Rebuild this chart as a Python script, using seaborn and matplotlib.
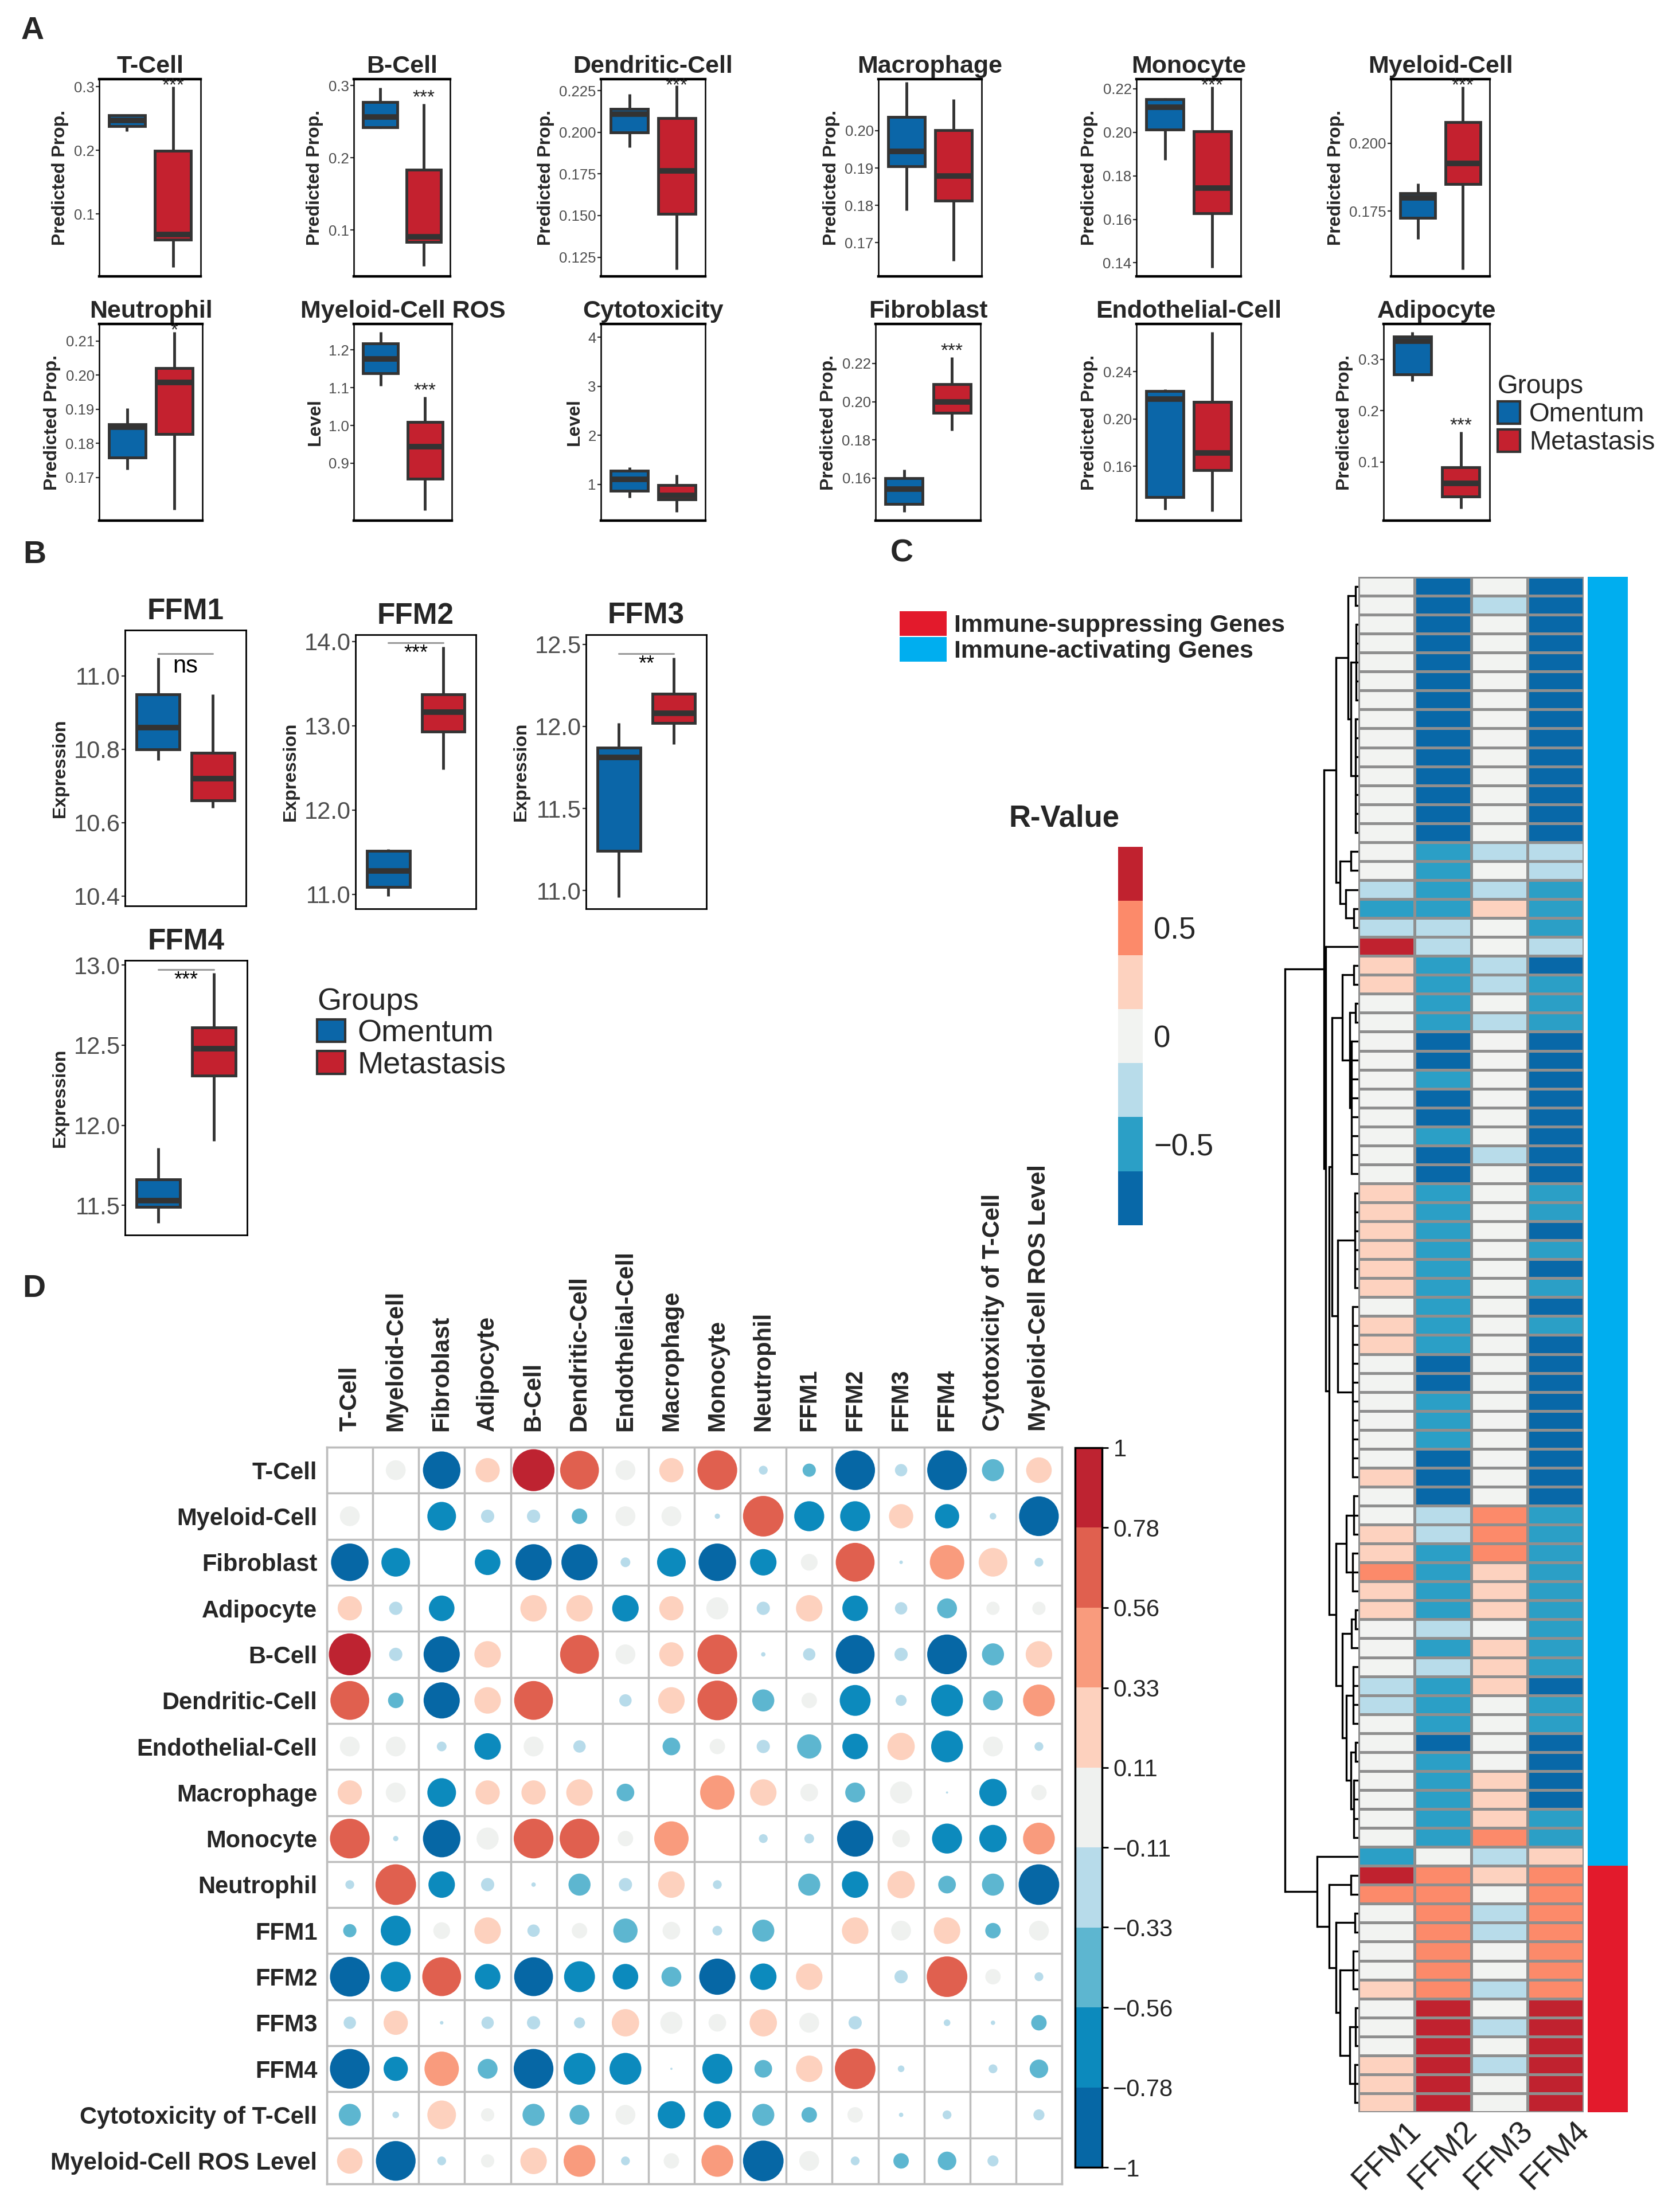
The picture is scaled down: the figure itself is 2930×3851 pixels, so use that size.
import numpy as np
import pandas as pd
import matplotlib
matplotlib.use("Agg")
import matplotlib as mpl
import matplotlib.pyplot as plt
import matplotlib.transforms as mtransforms
from matplotlib.colors import ListedColormap, Normalize
from matplotlib.patches import Patch
import seaborn as sns

sns.set_theme(style="white")
plt.rcParams["font.family"] = ["Liberation Sans", "DejaVu Sans"]

# ------------------------------------------------------------------ data
groups = ["Omentum", "Metastasis"]
group_colors = {"Omentum": "#0B66A8", "Metastasis": "#C4212F"}

# Panel A : five-number summaries [min, q1, median, q3, max]
a_titles = ["T-Cell", "B-Cell", "Dendritic-Cell", "Macrophage", "Monocyte", "Myeloid-Cell",
            "Neutrophil", "Myeloid-Cell ROS", "Cytotoxicity", "Fibroblast", "Endothelial-Cell", "Adipocyte"]
a_ylabels = ["Predicted Prop."] * 7 + ["Level", "Level"] + ["Predicted Prop."] * 3
a_omentum = [
    [0.230, 0.238, 0.247, 0.255, 0.256],
    [0.241, 0.242, 0.257, 0.277, 0.297],
    [0.191, 0.200, 0.211, 0.214, 0.223],
    [0.1787, 0.1905, 0.1944, 0.2036, 0.2131],
    [0.1872, 0.2012, 0.2116, 0.2152, 0.2156],
    [0.1648, 0.1725, 0.1799, 0.1815, 0.1852],
    [0.1723, 0.1758, 0.1847, 0.1856, 0.1903],
    [1.105, 1.138, 1.177, 1.217, 1.247],
    [0.73, 0.87, 1.10, 1.28, 1.35],
    [0.1422, 0.1464, 0.1542, 0.1600, 0.1644],
    [0.1232, 0.1337, 0.2167, 0.2234, 0.2251],
    [0.257, 0.271, 0.335, 0.344, 0.353],
]
a_metastasis = [
    [0.016, 0.060, 0.068, 0.199, 0.300],
    [0.050, 0.084, 0.091, 0.184, 0.275],
    [0.1175, 0.151, 0.177, 0.2085, 0.228],
    [0.1651, 0.1812, 0.1878, 0.2001, 0.2084],
    [0.1378, 0.1629, 0.1743, 0.2004, 0.2209],
    [0.1535, 0.1849, 0.1926, 0.2077, 0.2208],
    [0.1606, 0.1828, 0.1979, 0.2021, 0.2126],
    [0.776, 0.859, 0.944, 1.010, 1.076],
    [0.44, 0.69, 0.77, 0.98, 1.19],
    [0.1847, 0.1943, 0.2000, 0.2092, 0.2234],
    [0.122, 0.1568, 0.1713, 0.2145, 0.2735],
    [0.0089, 0.0331, 0.059, 0.0896, 0.159],
]
a_ylims = [(0.002, 0.312), (0.036, 0.309), (0.1135, 0.2319), (0.161, 0.2138), (0.1338, 0.2244),
           (0.151, 0.2236), (0.1574, 0.215), (0.748, 1.269), (0.26, 4.27), (0.1377, 0.2407),
           (0.114, 0.2804), (-0.0141, 0.3688)]
a_ticks = [[0.1, 0.2, 0.3], [0.1, 0.2, 0.3], [0.125, 0.150, 0.175, 0.200, 0.225],
           [0.17, 0.18, 0.19, 0.20], [0.14, 0.16, 0.18, 0.20, 0.22], [0.175, 0.200],
           [0.17, 0.18, 0.19, 0.20, 0.21], [0.9, 1.0, 1.1, 1.2], [1, 2, 3, 4],
           [0.16, 0.18, 0.20, 0.22], [0.16, 0.20, 0.24], [0.1, 0.2, 0.3]]
a_ticklabels = [["0.1", "0.2", "0.3"], ["0.1", "0.2", "0.3"],
                ["0.125", "0.150", "0.175", "0.200", "0.225"],
                ["0.17", "0.18", "0.19", "0.20"], ["0.14", "0.16", "0.18", "0.20", "0.22"],
                ["0.175", "0.200"], ["0.17", "0.18", "0.19", "0.20", "0.21"],
                ["0.9", "1.0", "1.1", "1.2"], ["1", "2", "3", "4"],
                ["0.16", "0.18", "0.20", "0.22"], ["0.16", "0.20", "0.24"], ["0.1", "0.2", "0.3"]]
a_stars = ["***", "***", "***", "", "***", "***", "*", "***", "", "***", "", "***"]

# Panel B
b_titles = ["FFM1", "FFM2", "FFM3", "FFM4"]
b_omentum = [[10.77, 10.80, 10.86, 10.95, 11.05],
             [10.98, 11.09, 11.28, 11.52, 11.54],
             [10.96, 11.24, 11.81, 11.87, 12.02],
             [11.39, 11.49, 11.53, 11.66, 11.86]]
b_metastasis = [[10.64, 10.66, 10.72, 10.79, 10.95],
                [12.48, 12.93, 13.16, 13.37, 13.94],
                [11.89, 12.02, 12.08, 12.20, 12.42],
                [11.90, 12.31, 12.48, 12.61, 12.95]]
b_ylims = [(10.373, 11.125), (10.83, 14.08), (10.889, 12.558), (11.314, 13.03)]
b_ticks = [[10.4, 10.6, 10.8, 11.0], [11.0, 12.0, 13.0, 14.0], [11.0, 11.5, 12.0, 12.5], [11.5, 12.0, 12.5, 13.0]]
b_ticklabels = [["10.4", "10.6", "10.8", "11.0"], ["11.0", "12.0", "13.0", "14.0"],
                ["11.0", "11.5", "12.0", "12.5"], ["11.5", "12.0", "12.5", "13.0"]]
b_signif = ["ns", "***", "**", "***"]

# Panel C : R-values of 81 genes vs FFM1..FFM4
heat_cols = ["FFM1", "FFM2", "FFM3", "FFM4"]
heat_values = [
    [0, -.75, 0, -.75], [0, -.75, -.25, -.75], [0, -.75, 0, -.75], [0, -.75, 0, -.75],
    [0, -.75, 0, -.75], [0, -.75, 0, -.75], [0, -.75, 0, -.75], [0, -.75, 0, -.75],
    [0, -.75, 0, -.75], [0, -.75, 0, -.75], [0, -.75, 0, -.75], [0, -.75, 0, -.75],
    [0, -.75, 0, -.75], [0, -.75, 0, -.75], [0, -.5, -.25, -.25], [0, -.5, 0, -.25],
    [-.25, -.5, -.25, -.5], [-.5, -.5, .25, -.5], [-.25, -.25, 0, -.5], [.75, -.25, 0, -.25],
    [.25, -.5, -.25, -.75], [.25, -.5, -.25, -.5], [0, -.5, 0, -.5], [0, -.5, -.25, -.5],
    [0, -.75, 0, -.75], [0, -.75, 0, -.75], [0, -.5, 0, -.75], [0, -.75, 0, -.75],
    [0, -.75, 0, -.75], [0, -.5, 0, -.75], [0, -.75, -.25, -.75], [0, -.75, 0, -.75],
    [.25, -.5, 0, -.5], [.25, -.5, 0, -.5], [.25, -.5, 0, -.75], [.25, -.5, 0, -.5],
    [.25, -.5, 0, -.75], [.25, -.5, 0, -.5], [0, -.5, 0, -.75], [.25, -.5, 0, -.5],
    [.25, -.5, 0, -.75], [0, -.75, 0, -.75], [0, -.75, 0, -.75], [0, -.5, 0, -.75],
    [0, -.5, 0, -.75], [0, -.5, 0, -.75], [0, -.75, 0, -.75], [.25, -.75, 0, -.75],
    [0, -.75, 0, -.75], [0, -.25, .5, -.5], [.25, -.25, .5, -.5], [.25, -.5, .5, -.5],
    [.5, -.5, .25, -.5], [.25, -.5, .25, -.5], [.25, -.5, .25, -.5], [0, -.25, 0, -.5],
    [0, -.5, .25, -.5], [0, -.25, .25, -.5], [-.25, -.5, .25, -.75], [-.25, -.5, 0, -.5],
    [0, -.5, 0, -.5], [0, -.75, 0, -.75], [0, -.5, 0, -.75], [0, -.5, .25, -.75],
    [0, -.5, .25, -.75], [0, -.5, .25, -.5], [0, -.5, .5, -.5], [-.5, 0, -.25, .25],
    [.75, .5, .25, .5], [.5, .5, 0, .5], [0, .5, -.25, .5], [0, .5, -.25, .5],
    [0, .5, 0, .5], [0, .5, 0, .5], [.25, .5, -.25, .5], [0, .75, 0, .75],
    [0, .75, -.25, .75], [0, .75, 0, .75], [.25, .75, -.25, .75], [.25, .75, 0, .75],
    [.25, .75, 0, .75],
]
gene_group_names = ["Immune-suppressing Genes", "Immune-activating Genes"]
gene_group_counts = {"Immune-activating Genes": 68, "Immune-suppressing Genes": 13}
# hierarchical clustering of the 81 genes: [height, child, child, ...]; ints = leaves
gene_tree = [1.0,
    [0.47,
        [0.30,
            [0.14, [0.04, 0, 1], [0.10, [0.03, 2, 3, 4, 5, 6], [0.04, 7, 8, 9, 10, 11, 12, 13]]],
            [0.25, [0.10, 14, 15], [0.17, 16, [0.06, 17, 18]]]],
        [0.44, 19,
            [0.40,
                [0.36,
                    [0.22, [0.06, 20, 21], [0.12, [0.04, 22, 23], [0.09, 24, 25, 26, 27, 28, 29, 30, 31]]],
                    [0.28, [0.05, 32, 33, 34, 35, 36, 37], [0.08, 38, 39, 40, 41, 42, 43, 44, 45, 46, 47]]],
                [0.30,
                    [0.16, [0.06, 48, 49, 50], [0.08, 51, 52, 53]],
                    [0.22, [0.09, [0.04, 54, 55], 56],
                           [0.16, [0.07, 57, 58, 59, 60], [0.10, [0.04, 61, 62], [0.06, 63, 64, 65, 66]]]]]]]],
    [0.56, 67,
        [0.40, [0.10, 68, 69],
               [0.30, [0.05, 70, 71],
                      [0.25, [0.07, 72, 73, 74], [0.12, [0.04, 75, 76, 77], [0.05, 78, 79, 80]]]]]]]
heat_colors = ["#0868A8", "#2B9FC6", "#B8DCEA", "#F2F3F1", "#FDD2BF", "#FC8A6A", "#C0222F"]
heat_range = (-0.875, 0.875)
heat_cbar_ticks = [0.5, 0, -0.5]
heat_cbar_labels = ["0.5", "0", "\u22120.5"]

# Panel D : correlation matrix (upper triangle) and circle sizes
corr_labels = ["T-Cell", "Myeloid-Cell", "Fibroblast", "Adipocyte", "B-Cell", "Dendritic-Cell",
               "Endothelial-Cell", "Macrophage", "Monocyte", "Neutrophil", "FFM1", "FFM2", "FFM3",
               "FFM4", "Cytotoxicity of T-Cell", "Myeloid-Cell ROS Level"]
corr_upper = [
    [0.0, -0.89, 0.22, 0.89, 0.67, 0.0, 0.22, 0.67, -0.22, -0.45, -0.89, -0.22, -0.89, -0.45, 0.22],
    [-0.67, -0.22, -0.22, -0.45, 0.0, 0.0, -0.22, 0.67, -0.67, -0.67, 0.22, -0.67, -0.22, -0.89],
    [-0.67, -0.89, -0.89, -0.22, -0.67, -0.89, -0.67, 0.0, 0.67, -0.22, 0.45, 0.22, -0.22],
    [0.22, 0.22, -0.67, 0.22, 0.0, -0.22, 0.22, -0.67, -0.22, -0.45, 0.0, 0.0],
    [0.67, 0.0, 0.22, 0.67, -0.22, -0.22, -0.89, -0.22, -0.89, -0.45, 0.22],
    [-0.22, 0.22, 0.67, -0.45, 0.0, -0.67, -0.22, -0.67, -0.45, 0.45],
    [-0.45, 0.0, -0.22, -0.45, -0.67, 0.22, -0.67, 0.0, -0.22],
    [0.45, 0.22, 0.0, -0.45, 0.0, -0.22, -0.67, 0.0],
    [-0.22, -0.22, -0.89, 0.0, -0.67, -0.67, 0.45],
    [-0.45, -0.67, 0.22, -0.45, -0.45, -0.89],
    [0.22, 0.0, 0.22, -0.45, 0.0],
    [-0.22, 0.67, 0.0, -0.22],
    [-0.22, -0.22, -0.45],
    [-0.22, -0.45],
    [-0.22],
]
size_upper = [
    [0.45, 0.85, 0.55, 0.95, 0.88, 0.45, 0.55, 0.90, 0.20, 0.30, 0.90, 0.28, 0.90, 0.50, 0.58],
    [0.65, 0.30, 0.30, 0.35, 0.45, 0.45, 0.12, 0.92, 0.68, 0.68, 0.55, 0.55, 0.15, 0.90],
    [0.58, 0.82, 0.82, 0.22, 0.65, 0.85, 0.60, 0.38, 0.88, 0.08, 0.78, 0.65, 0.20],
    [0.60, 0.60, 0.60, 0.55, 0.50, 0.30, 0.60, 0.58, 0.28, 0.45, 0.30, 0.30],
    [0.88, 0.45, 0.55, 0.90, 0.10, 0.28, 0.88, 0.30, 0.90, 0.50, 0.60],
    [0.28, 0.60, 0.90, 0.50, 0.35, 0.70, 0.25, 0.72, 0.45, 0.72],
    [0.40, 0.35, 0.30, 0.55, 0.58, 0.62, 0.72, 0.45, 0.20],
    [0.78, 0.60, 0.40, 0.45, 0.50, 0.05, 0.62, 0.35],
    [0.20, 0.22, 0.82, 0.40, 0.68, 0.62, 0.72],
    [0.50, 0.60, 0.62, 0.40, 0.50, 0.92],
    [0.60, 0.45, 0.60, 0.35, 0.45],
    [0.30, 0.92, 0.35, 0.20],
    [0.15, 0.10, 0.35],
    [0.20, 0.42],
    [0.25],
]
corr_colors = ["#0667A5", "#0C8ABD", "#5DB6D0", "#B7DBEA", "#EFF1EF",
               "#FDD1BE", "#F99B7D", "#E0604F", "#BE2331"]
corr_bounds = [-1, -0.778, -0.556, -0.333, -0.111, 0.111, 0.333, 0.556, 0.778, 1]
corr_tick_labels = ["\u22121", "\u22120.78", "\u22120.56", "\u22120.33", "\u22120.11",
                    "0.11", "0.33", "0.56", "0.78", "1"]

# ------------------------------------------------------------------ figure
W, H = 2930, 3851
fig = plt.figure(figsize=(W / 100, H / 100), dpi=100)
fig.patch.set_facecolor("white")


def add_ax(x0, y0, x1, y1):
    return fig.add_axes([x0 / W, 1 - y1 / H, (x1 - x0) / W, (y1 - y0) / H])


def box_panel(ax, om, met, ylim, ticks, tlabels, ylabel, title, tick_fs, ylab_fs, title_fs,
              frame_lw, title_pad):
    df = pd.DataFrame({"Groups": [groups[0]] * len(om) + [groups[1]] * len(met),
                       "value": list(om) + list(met)})
    sns.boxplot(data=df, x="Groups", y="value", hue="Groups", order=groups, hue_order=groups,
                palette=group_colors, saturation=1, width=0.78, whis=(0, 100), showcaps=False,
                linecolor="#333333", linewidth=3.5, medianprops={"linewidth": 7, "color": "#333333"},
                legend=False, ax=ax)
    ax.set_xlim(-0.6, 1.6)
    ax.set_ylim(*ylim)
    ax.set_xticks([])
    ax.set_xlabel("")
    ax.set_yticks(ticks)
    ax.set_yticklabels(tlabels, fontsize=tick_fs, color="#4D4D4D")
    ax.tick_params(axis="y", left=True, length=4, width=1.6, color="#333333", pad=2)
    ax.set_ylabel(ylabel, fontsize=ylab_fs, fontweight="bold", labelpad=6)
    ax.set_title(title, fontsize=title_fs, fontweight="bold", pad=title_pad)
    for sp in ax.spines.values():
        sp.set_visible(True)
        sp.set_color("black")
        sp.set_linewidth(frame_lw)


# ---------------- Panel A
a_x = [[(173, 350), (617, 785), (1048, 1230), (1532, 1712), (1982, 2164), (2426, 2598)],
       [(173, 353), (617, 788), (1048, 1230), (1527, 1710), (1982, 2164), (2413, 2598)]]
a_y = [(138, 482), (565, 908)]
for k in range(12):
    r, c = divmod(k, 6)
    x0, x1 = a_x[r][c]
    y0, y1 = a_y[r]
    ax = add_ax(x0, y0, x1, y1)
    box_panel(ax, a_omentum[k], a_metastasis[k], a_ylims[k], a_ticks[k], a_ticklabels[k],
              a_ylabels[k], a_titles[k], 18.5, 23, 31, 1.8, 8)
    ax.spines["top"].set_linewidth(3.2)
    ax.spines["bottom"].set_linewidth(3.2)
    if a_stars[k]:
        lo, hi = a_ylims[k]
        rng = hi - lo
        ys = min(max(a_metastasis[k]) + 0.03 * rng, hi - 0.035 * rng)
        ax.text(1, ys, a_stars[k], ha="center", va="center", fontsize=24, color="#222222")

fig.legend(handles=[Patch(facecolor=group_colors[g], edgecolor="#333333", linewidth=3) for g in groups],
           labels=groups, loc="upper left", bbox_to_anchor=(2612 / W, 1 - 652 / H),
           frameon=False, title="Groups", alignment="left", prop={"size": 33},
           title_fontproperties={"size": 33}, handlelength=0.85, handleheight=0.95,
           handletextpad=0.35, labelspacing=0.08, borderpad=0, borderaxespad=0)

# ---------------- Panel B
b_pos = [(218, 1099, 429, 1580), (620, 1107, 830, 1585), (1022, 1107, 1232, 1585), (218, 1675, 431, 2154)]
for k in range(4):
    ax = add_ax(*b_pos[k])
    box_panel(ax, b_omentum[k], b_metastasis[k], b_ylims[k], b_ticks[k], b_ticklabels[k],
              "Expression", b_titles[k], 30, 23, 37, 2.0, 14)
    lo, hi = b_ylims[k]
    rng = hi - lo
    by = max(max(b_omentum[k]), max(b_metastasis[k])) + 0.014 * rng
    ax.plot([0, 1], [by, by], color="#9A9A9A", lw=2.2)
    ax.text(0.5, by - 0.004 * rng, b_signif[k], ha="center", va="top",
            fontsize=30 if b_signif[k] == "ns" else 26, color="black")

fig.legend(handles=[Patch(facecolor=group_colors[g], edgecolor="#333333", linewidth=3) for g in groups],
           labels=groups, loc="upper left", bbox_to_anchor=(553 / W, 1 - 1722 / H),
           frameon=False, title="Groups", alignment="left", prop={"size": 39},
           title_fontproperties={"size": 39}, handlelength=0.9, handleheight=0.75,
           handletextpad=0.4, labelspacing=0.1, borderpad=0, borderaxespad=0)

# ---------------- Panel C
heat_df = pd.DataFrame(heat_values, columns=heat_cols)
n_rows = len(heat_df)
axh = add_ax(2369, 1006, 2762, 3684)
sns.heatmap(heat_df, cmap=ListedColormap(heat_colors), vmin=heat_range[0], vmax=heat_range[1],
            cbar=False, linewidths=2.5, linecolor="#8F8F8F", xticklabels=heat_cols,
            yticklabels=False, ax=axh)
axh.set_xticklabels(heat_cols, rotation=45, ha="right", va="top", rotation_mode="anchor",
                    fontsize=40, color="#222222")
axh.tick_params(axis="x", length=0, pad=4, bottom=True)
offset = mtransforms.ScaledTranslation(0.33, 0, fig.dpi_scale_trans)
for lab in axh.get_xticklabels():
    lab.set_transform(lab.get_transform() + offset)
axh.set_ylabel("")

# annotation bar
gene_groups = (["Immune-activating Genes"] * gene_group_counts["Immune-activating Genes"]
               + ["Immune-suppressing Genes"] * gene_group_counts["Immune-suppressing Genes"])
ann_df = pd.DataFrame({"grp": [1 if g == "Immune-suppressing Genes" else 0 for g in gene_groups]})
axa = add_ax(2769, 1006, 2839, 3684)
sns.heatmap(ann_df, cmap=ListedColormap(["#00AEEF", "#E31A2C"]), vmin=0, vmax=1, cbar=False,
            xticklabels=False, yticklabels=False, ax=axa)

# dendrogram
axd_tree = add_ax(2238, 1006, 2369, 3684)


def draw_tree(ax, node):
    if isinstance(node, int):
        return node + 0.5, 0.0
    h = node[0]
    pts = [draw_tree(ax, ch) for ch in node[1:]]
    ys = [p[0] for p in pts]
    for y, hc in pts:
        ax.plot([hc, h], [y, y], color="black", lw=2.4, solid_capstyle="butt")
    ax.plot([h, h], [min(ys), max(ys)], color="black", lw=2.4, solid_capstyle="projecting")
    return (min(ys) + max(ys)) / 2, h


draw_tree(axd_tree, gene_tree)
axd_tree.set_xlim(1.02, 0)
axd_tree.set_ylim(n_rows, 0)
axd_tree.axis("off")

# R-value colorbar
caxc = add_ax(1950, 1477, 1993, 2137)
cbc = fig.colorbar(mpl.cm.ScalarMappable(norm=Normalize(*heat_range), cmap=ListedColormap(heat_colors)),
                   cax=caxc, ticks=heat_cbar_ticks)
cbc.ax.set_yticklabels(heat_cbar_labels, fontsize=38)
cbc.ax.tick_params(length=0, pad=14)
cbc.outline.set_visible(False)
fig.text(1856 / W, 1 - 1428 / H, "R-Value", ha="center", va="center", fontsize=38, fontweight="bold")

fig.legend(handles=[Patch(facecolor="#E31A2C", linewidth=0), Patch(facecolor="#00AEEF", linewidth=0)],
           labels=gene_group_names, loc="upper left", bbox_to_anchor=(1569 / W, 1 - 1066 / H),
           frameon=False, prop={"size": 31, "weight": "bold"}, handlelength=1.9, handleheight=1.15,
           handletextpad=0.3, labelspacing=0, borderpad=0, borderaxespad=0)

# ---------------- Panel D
n = len(corr_labels)
R = np.zeros((n, n))
S = np.zeros((n, n))
for i, row in enumerate(corr_upper):
    for k, v in enumerate(row):
        j = i + 1 + k
        R[i, j] = R[j, i] = v
for i, row in enumerate(size_upper):
    for k, v in enumerate(row):
        j = i + 1 + k
        S[i, j] = S[j, i] = v
recs = []
for i in range(n):
    for j in range(n):
        if i != j:
            recs.append({"col": j, "row": i, "r": R[i, j], "area": S[i, j] ** 2})
cdf = pd.DataFrame(recs)
cdf["bin"] = pd.cut(cdf["r"], bins=corr_bounds, labels=[f"b{k}" for k in range(9)],
                    include_lowest=True).astype(str)
palette = {f"b{k}": corr_colors[k] for k in range(9)}

x0, y0, x1, y1 = 570, 2524, 1852, 3809
axc = add_ax(x0, y0, x1, y1)
cell_pt = (x1 - x0) / n * 0.72
smax = (0.96 * cell_pt) ** 2
sns.scatterplot(data=cdf, x="col", y="row", hue="bin", palette=palette, size="area",
                sizes=(0, smax), size_norm=(0, 1), legend=False, linewidth=0, ax=axc)
axc.set_xlim(-0.5, n - 0.5)
axc.set_ylim(n - 0.5, -0.5)
axc.set_xticks(np.arange(-0.5, n, 1), minor=True)
axc.set_yticks(np.arange(-0.5, n, 1), minor=True)
axc.grid(which="minor", color="#BDBDBD", lw=2.5)
axc.grid(which="major", visible=False)
axc.set_axisbelow(True)
axc.set_xticks(range(n))
axc.set_yticks(range(n))
axc.xaxis.tick_top()
axc.set_xticklabels(corr_labels, rotation=90, fontsize=30, fontweight="bold")
axc.set_yticklabels(corr_labels, fontsize=30, fontweight="bold")
axc.tick_params(axis="x", which="both", length=0, pad=20)
axc.tick_params(axis="y", which="both", length=0, pad=12)
axc.set_xlabel("")
axc.set_ylabel("")
for sp in axc.spines.values():
    sp.set_visible(True)
    sp.set_color("#BDBDBD")
    sp.set_linewidth(2.5)

caxd = add_ax(1875, 2525, 1922, 3780)
cbd = fig.colorbar(mpl.cm.ScalarMappable(norm=Normalize(-1, 1), cmap=ListedColormap(corr_colors)),
                   cax=caxd, ticks=corr_bounds)
cbd.ax.set_yticklabels(corr_tick_labels, fontsize=30)
cbd.ax.tick_params(length=8, width=2, color="black", pad=6, right=True)
cbd.outline.set_linewidth(2.5)
cbd.outline.set_edgecolor("black")

# ---------------- panel letters
for letter, (lx, ly) in {"A": (37, 28), "B": (40, 942), "C": (1553, 940), "D": (39, 2222)}.items():
    fig.text(lx / W, 1 - ly / H, letter, ha="left", va="top", fontsize=40, fontweight="bold")

fig.savefig("out.png", dpi=100, facecolor="white")
